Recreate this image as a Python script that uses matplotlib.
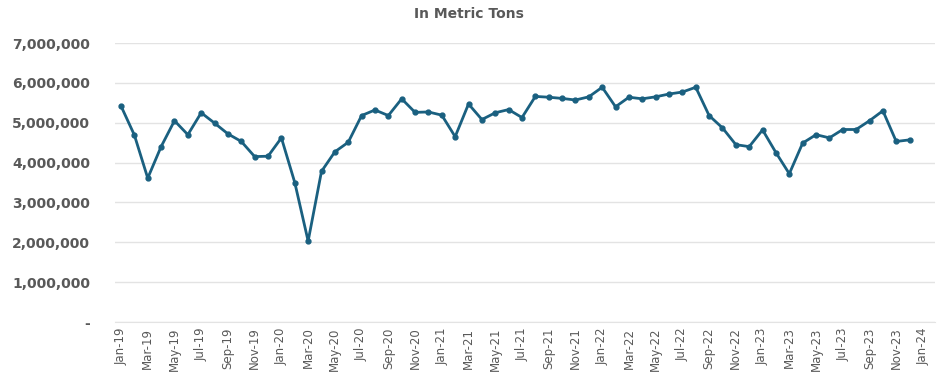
import matplotlib.pyplot as plt
import pandas as pd
from matplotlib.ticker import FuncFormatter

# ---------------------------------------------------------------------------
# Data (monthly, Jan-2019 .. Dec-2023), metric tons
# ---------------------------------------------------------------------------
MONTHS = pd.date_range("2019-01-01", "2023-12-01", freq="MS")

TONS = [
    5420000, 4690000, 3610000, 4400000, 5050000, 4700000,
    5250000, 4990000, 4720000, 4530000, 4150000, 4160000,
    4620000, 3500000, 2030000, 3780000, 4270000, 4510000,
    5180000, 5320000, 5180000, 5600000, 5260000, 5270000,
    5190000, 4650000, 5470000, 5080000, 5250000, 5330000,
    5130000, 5660000, 5640000, 5610000, 5570000, 5650000,
    5890000, 5400000, 5640000, 5600000, 5650000, 5720000,
    5770000, 5890000, 5180000, 4870000, 4450000, 4400000,
    4820000, 4250000, 3720000, 4490000, 4700000, 4620000,
    4830000, 4830000, 5050000, 5300000, 4530000, 4570000,
]

TICK_LABELS = [
    "Jan-19", "Mar-19", "May-19", "Jul-19", "Sep-19", "Nov-19",
    "Jan-20", "Mar-20", "May-20", "Jul-20", "Sep-20", "Nov-20",
    "Jan-21", "Mar-21", "May-21", "Jul-21", "Sep-21", "Nov-21",
    "Jan-22", "Mar-22", "May-22", "Jul-22", "Sep-22", "Nov-22",
    "Jan-23", "Mar-23", "May-23", "Jul-23", "Sep-23", "Nov-23",
    "Jan-24",
]

LINE_COLOR = "#1a6080"
TEXT_COLOR = "#595959"
GRID_COLOR = "#e3e3e3"


def fmt_tons(v, _pos):
    if v == 0:
        return "-"
    return f"{v:,.0f}"


def main() -> None:
    x = list(range(len(MONTHS)))

    fig = plt.figure(figsize=(9.38, 3.74), dpi=100)
    ax = fig.add_axes([0.1226, 0.139, 0.8742, 0.746])

    ax.plot(x, TONS, color=LINE_COLOR, linewidth=2.0, marker="o",
            markersize=3.5, zorder=3)

    ax.set_ylim(0, 7000000)
    ax.set_yticks(range(0, 7000001, 1000000))
    ax.yaxis.set_major_formatter(FuncFormatter(fmt_tons))
    ax.set_xlim(-0.45, 60.9)
    ax.set_xticks(range(0, 61, 2))
    ax.set_xticklabels(TICK_LABELS, rotation=90, fontsize=8.5, color=TEXT_COLOR)

    for lbl in ax.get_yticklabels():
        lbl.set_fontweight("bold")
        lbl.set_fontsize(10)
        lbl.set_color(TEXT_COLOR)

    ax.grid(axis="y", color=GRID_COLOR, linewidth=1.0, zorder=0)
    ax.tick_params(axis="y", length=0, pad=18)
    ax.tick_params(axis="x", length=0, pad=4)
    for s in ax.spines.values():
        s.set_visible(False)
    ax.spines["bottom"].set_visible(True)
    ax.spines["bottom"].set_color(GRID_COLOR)

    fig.text(0.5, 0.962, "In Metric Tons", ha="center", va="center",
             fontsize=10, fontweight="bold", color=TEXT_COLOR)

    fig.savefig("out.png", dpi=100)
    plt.close(fig)


if __name__ == "__main__":
    main()
